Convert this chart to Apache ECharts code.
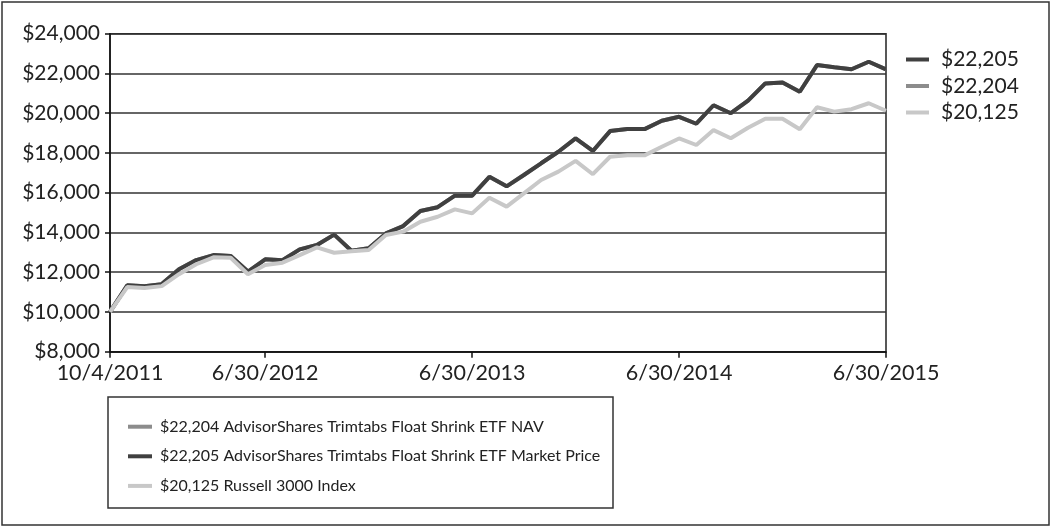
<!DOCTYPE html>
<html>
<head>
<meta charset="utf-8">
<script src="https://cdn.jsdelivr.net/npm/echarts@6/dist/echarts.min.js"></script>
<style>
html,body{margin:0;padding:0;background:#fff;}
#chart{width:1052px;height:527px;}
</style>
</head>
<body>
<div id="chart"></div>
<script>
var categories = ['10/4/2011','10/31/2011','11/30/2011','12/31/2011','1/31/2012','2/29/2012','3/31/2012','4/30/2012','5/31/2012','6/30/2012',
  '7/31/2012','8/31/2012','9/30/2012','10/31/2012','11/30/2012','12/31/2012','1/31/2013','2/28/2013','3/31/2013','4/30/2013','5/31/2013','6/30/2013',
  '7/31/2013','8/31/2013','9/30/2013','10/31/2013','11/30/2013','12/31/2013','1/31/2014','2/28/2014','3/31/2014','4/30/2014','5/31/2014','6/30/2014',
  '7/31/2014','8/31/2014','9/30/2014','10/31/2014','11/30/2014','12/31/2014','1/31/2015','2/28/2015','3/31/2015','4/30/2015','5/31/2015','6/30/2015'];
var tickLabels = ['10/4/2011','6/30/2012','6/30/2013','6/30/2014','6/30/2015'];
var seriesNames = ['$22,204 AdvisorShares Trimtabs Float Shrink ETF NAV',
  '$22,205 AdvisorShares Trimtabs Float Shrink ETF Market Price',
  '$20,125 Russell 3000 Index'];
var endLabels = ['$22,204', '$22,205', '$20,125'];
var navValues = [10000,11340,11290,11400,12150,12610,12860,12810,12030,12650,12600,13150,13370,13890,13080,13200,13950,14320,15080,15270,15850,15850,16800,16320,16890,17480,18060,18730,18100,19100,19200,19200,19620,19820,19470,20400,20000,20630,21500,21540,21080,22420,22310,22210,22590,22204];
var marketValues = [10000,11340,11290,11400,12150,12610,12860,12810,12030,12650,12600,13150,13370,13890,13080,13200,13950,14320,15080,15270,15850,15850,16800,16320,16890,17480,18060,18730,18100,19100,19200,19200,19620,19820,19470,20400,20000,20630,21500,21540,21080,22420,22310,22210,22590,22205];
var russellValues = [10000,11250,11200,11300,11900,12400,12750,12730,11900,12360,12480,12860,13250,12980,13050,13120,13870,14040,14540,14790,15160,14960,15750,15300,15970,16640,17060,17600,16930,17810,17880,17880,18310,18730,18400,19150,18740,19270,19720,19720,19190,20300,20080,20200,20500,20125];
var yTicks = {min: 8000, max: 24000, interval: 2000};

var colors = ['#8c8c8c', '#404040', '#c8c8c8'];
var FONT = 'Lato, "Open Sans", sans-serif';

var chart = echarts.init(document.getElementById('chart'), null, {renderer: 'canvas'});
function isTick(i, v) { return tickLabels.indexOf(v) >= 0; }

chart.setOption({
  animation: false,
  backgroundColor: '#fff',
  graphic: [
    {type: 'rect', shape: {x: 2, y: 2, width: 1047, height: 523}, style: {fill: 'none', stroke: '#333', lineWidth: 1.5}, silent: true},
    {type: 'rect', shape: {x: 108, y: 397, width: 505, height: 111}, style: {fill: 'none', stroke: '#333', lineWidth: 1.5}, silent: true}
  ],
  grid: {left: 110, right: 166, top: 33.7, bottom: 175.3, show: true, borderColor: '#222', borderWidth: 1.5, backgroundColor: 'transparent'},
  legend: [
    {
      data: [seriesNames[1], seriesNames[0], seriesNames[2]],
      orient: 'vertical', left: 906, top: 49, padding: 0, itemGap: 5.5,
      icon: 'rect', itemWidth: 23, itemHeight: 4,
      textStyle: {fontFamily: FONT, fontSize: 21, color: '#222', lineHeight: 20, padding: [0, 0, 0, 7]},
      formatter: function (n) { return endLabels[seriesNames.indexOf(n)]; },
      selectedMode: false
    },
    {
      data: seriesNames.slice(),
      orient: 'vertical', left: 128, top: 415.7, padding: 0, itemGap: 7.6,
      icon: 'rect', itemWidth: 24, itemHeight: 4,
      textStyle: {fontFamily: FONT, fontSize: 16, color: '#222', lineHeight: 22, padding: [0, 0, 0, 3]},
      selectedMode: false
    }
  ],
  xAxis: {
    type: 'category', data: categories, boundaryGap: false,
    axisLine: {lineStyle: {color: '#111', width: 1.5}},
    axisTick: {show: true, length: 6, interval: isTick, lineStyle: {color: '#111', width: 1.5}},
    axisLabel: {interval: isTick, margin: 10, fontFamily: FONT, fontSize: 21.5, color: '#222', hideOverlap: false, showMinLabel: true, showMaxLabel: true},
    splitLine: {show: false}
  },
  yAxis: {
    type: 'value', min: yTicks.min, max: yTicks.max, interval: yTicks.interval,
    axisLine: {show: true, lineStyle: {color: '#111', width: 1.5}},
    axisTick: {show: true, length: 5, lineStyle: {color: '#111', width: 1.5}},
    axisLabel: {margin: 10, fontFamily: FONT, fontSize: 21, color: '#222',
      formatter: function (v) { return '$' + v.toLocaleString('en-US'); }},
    splitLine: {show: true, lineStyle: {color: '#333', width: 1.5}}
  },
  series: [
    {name: seriesNames[0], type: 'line', data: navValues, showSymbol: false, symbol: 'none',
      lineStyle: {color: colors[0], width: 4}, itemStyle: {color: colors[0]}, z: 2},
    {name: seriesNames[1], type: 'line', data: marketValues, showSymbol: false, symbol: 'none',
      lineStyle: {color: colors[1], width: 4}, itemStyle: {color: colors[1]}, z: 3},
    {name: seriesNames[2], type: 'line', data: russellValues, showSymbol: false, symbol: 'none',
      lineStyle: {color: colors[2], width: 4}, itemStyle: {color: colors[2]}, z: 4}
  ]
});
</script>
</body>
</html>
